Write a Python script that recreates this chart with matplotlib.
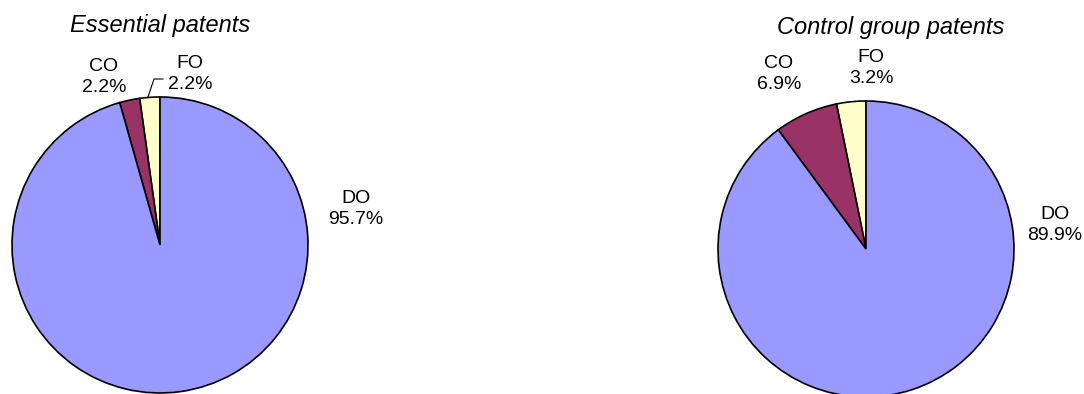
import matplotlib
matplotlib.use("Agg")
import matplotlib.pyplot as plt

plt.rcParams['font.family'] = ['Liberation Sans', 'DejaVu Sans']

# Data
categories = ["FO", "CO", "DO"]
colors = ["#FFFFCC", "#993366", "#9999FF"]
essential_values = [2.2, 2.2, 95.7]
control_values = [3.2, 6.9, 89.9]
titles = ["Essential patents", "Control group patents"]

W, H = 1084, 394
fig = plt.figure(figsize=(W / 100, H / 100), dpi=100)
ax = fig.add_axes([0, 0, 1, 1])
ax.set_xlim(0, W)
ax.set_ylim(0, H)
ax.set_aspect('equal')
ax.axis('off')

def py(y):
    return H - y

pies = [
    dict(values=essential_values, center=(160, 245), title_pos=(160, 25),
         label_pos={"FO": (190, 74), "CO": (104, 77), "DO": (356, 209)}),
    dict(values=control_values, center=(866, 249), title_pos=(891, 27),
         label_pos={"FO": (871, 68), "CO": (779, 74), "DO": (1055, 225)}),
]

for p, title in zip(pies, titles):
    cx, cy = p["center"]
    ax.pie(p["values"], colors=colors, startangle=90, counterclock=True,
           center=(cx, py(cy)), radius=148, frame=True,
           wedgeprops=dict(edgecolor='black', linewidth=1.2))
    for name, v in zip(categories, p["values"]):
        lx, ly = p["label_pos"][name]
        ax.text(lx, py(ly), f"{name}\n{v:.1f}%", ha='center', va='center',
                fontsize=14, linespacing=1.3, color='black')
    tx, ty = p["title_pos"]
    ax.text(tx, py(ty), title, ha='center', va='center', fontsize=17,
            style='italic', color='black')

# Leader line for the small FO slice of the left pie
ax.plot([148, 154, 163], [py(97), py(79), py(79)], color='black', lw=0.8)

ax.set_xlim(0, W)
ax.set_ylim(0, H)
ax.axis('off')
fig.savefig("out.png", dpi=100, facecolor='white')
